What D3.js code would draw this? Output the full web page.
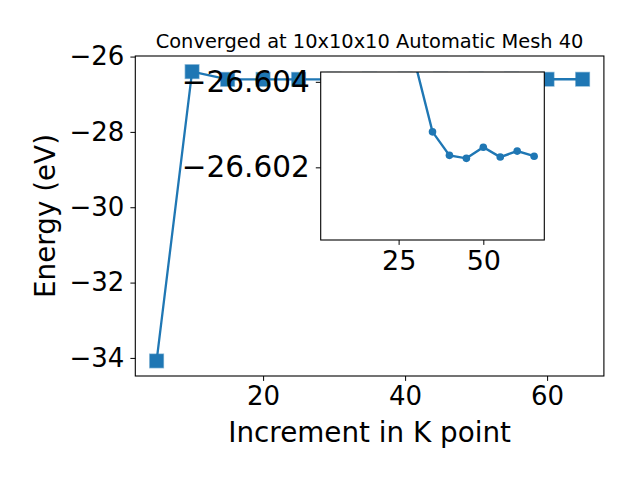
<!DOCTYPE html>
<html>
<head>
<meta charset="utf-8">
<title>K point convergence</title>
<script src="https://cdn.jsdelivr.net/npm/d3@7"></script>
<style>
  body { margin: 0; background: #fff; }
  text { font-family: 'DejaVu Sans', sans-serif; fill: #000; }
</style>
</head>
<body>
<svg id="chart" width="640" height="480"></svg>
<script>
// k point increments and total energies (eV)
var kPoints  = [5, 10, 15, 20, 25, 30, 35, 40, 45, 50, 55, 60, 65];
var energies = [-34.08, -26.40, -26.605, -26.605, -26.605, -26.6044, -26.60283,
                -26.60228, -26.60221, -26.60247, -26.60224, -26.60238, -26.60226];

var mainXTicks  = [20, 40, 60];
var mainYTicks  = [-26, -28, -30, -32, -34];
var insetXTicks = [25, 50];
var insetYTicks = [-26.604, -26.602];
var insetFromK  = 15;

var blue = "#1f77b4";
var svg = d3.select("#chart");

var data = kPoints.map(function(k, i) { return {k: k, e: energies[i]}; });

// main axes
var x = d3.scaleLinear().domain([2, 68]).range([135.3, 603.9]);
var y = d3.scaleLinear().domain([-34.48, -25.985]).range([376, 56]);

svg.append("clipPath").attr("id", "mainClip")
  .append("rect").attr("x", 135.3).attr("y", 56).attr("width", 468.6).attr("height", 320);

var line = d3.line().x(function(d) { return x(d.k); }).y(function(d) { return y(d.e); });

var gMain = svg.append("g").attr("clip-path", "url(#mainClip)");
gMain.append("path")
  .datum(data)
  .attr("fill", "none")
  .attr("stroke", blue)
  .attr("stroke-width", 2.3)
  .attr("d", line);

gMain.selectAll("rect.mk")
  .data(data)
  .enter()
  .append("rect")
  .attr("class", "mk")
  .attr("x", function(d) { return x(d.k) - 6.8; })
  .attr("y", function(d) { return y(d.e) - 6.8; })
  .attr("width", 13.6)
  .attr("height", 13.6)
  .attr("fill", blue)
  .attr("stroke", blue)
  .attr("stroke-opacity", 0.5)
  .attr("stroke-width", 1.4);

svg.append("rect")
  .attr("x", 135.3).attr("y", 56).attr("width", 468.6).attr("height", 320)
  .attr("fill", "none").attr("stroke", "#000").attr("stroke-width", 1.1);

var xAxis = svg.append("g").attr("transform", "translate(0,376)")
  .call(d3.axisBottom(x).tickValues(mainXTicks).tickSize(4.9).tickPadding(6).tickFormat(d3.format("d")));
xAxis.select(".domain").remove();
xAxis.selectAll("text").attr("font-size", 26).attr("fill", "#000");

var yAxis = svg.append("g").attr("transform", "translate(135.3,0)")
  .call(d3.axisLeft(y).tickValues(mainYTicks).tickSize(4.9).tickPadding(6).tickFormat(d3.format("d")));
yAxis.select(".domain").remove();
yAxis.selectAll("text").attr("font-size", 26).attr("fill", "#000");

svg.append("text")
  .attr("x", 369.6).attr("y", 48)
  .attr("text-anchor", "middle")
  .attr("font-size", 19.4)
  .text("Converged at 10x10x10 Automatic Mesh 40");

svg.append("text")
  .attr("x", 369.6).attr("y", 442)
  .attr("text-anchor", "middle")
  .attr("font-size", 27.8)
  .text("Increment in K point");

svg.append("text")
  .attr("transform", "translate(55,216) rotate(-90)")
  .attr("text-anchor", "middle")
  .attr("font-size", 27.8)
  .text("Energy (eV)");

// inset axes
var ix = d3.scaleLinear().domain([2, 68]).range([320.7, 544.3]);
var iy = d3.scaleLinear().domain([-26.60423, -26.6003]).range([72, 240]);

svg.append("rect")
  .attr("x", 320.7).attr("y", 72).attr("width", 223.6).attr("height", 168)
  .attr("fill", "#fff");

svg.append("clipPath").attr("id", "insetClip")
  .append("rect").attr("x", 320.7).attr("y", 72).attr("width", 223.6).attr("height", 168);

var insetData = data.filter(function(d) { return d.k >= insetFromK; });
var iline = d3.line().x(function(d) { return ix(d.k); }).y(function(d) { return iy(d.e); });

var gInset = svg.append("g").attr("clip-path", "url(#insetClip)");
gInset.append("path")
  .datum(insetData)
  .attr("fill", "none")
  .attr("stroke", blue)
  .attr("stroke-width", 2.4)
  .attr("d", iline);
gInset.selectAll("circle")
  .data(insetData)
  .enter()
  .append("circle")
  .attr("cx", function(d) { return ix(d.k); })
  .attr("cy", function(d) { return iy(d.e); })
  .attr("r", 3.8)
  .attr("fill", blue);

svg.append("rect")
  .attr("x", 320.7).attr("y", 72).attr("width", 223.6).attr("height", 168)
  .attr("fill", "none").attr("stroke", "#000").attr("stroke-width", 1.1);

var ixAxis = svg.append("g").attr("transform", "translate(0,240)")
  .call(d3.axisBottom(ix).tickValues(insetXTicks).tickSize(4.9).tickPadding(6).tickFormat(d3.format("d")));
ixAxis.select(".domain").remove();
ixAxis.selectAll("text").attr("font-size", 27).attr("fill", "#000");

var iyAxis = svg.append("g").attr("transform", "translate(320.7,0)")
  .call(d3.axisLeft(iy).tickValues(insetYTicks).tickSize(4.9).tickPadding(6).tickFormat(d3.format(".3f")));
iyAxis.select(".domain").remove();
iyAxis.selectAll("text").attr("font-size", 29.5).attr("fill", "#000");
</script>
</body>
</html>
